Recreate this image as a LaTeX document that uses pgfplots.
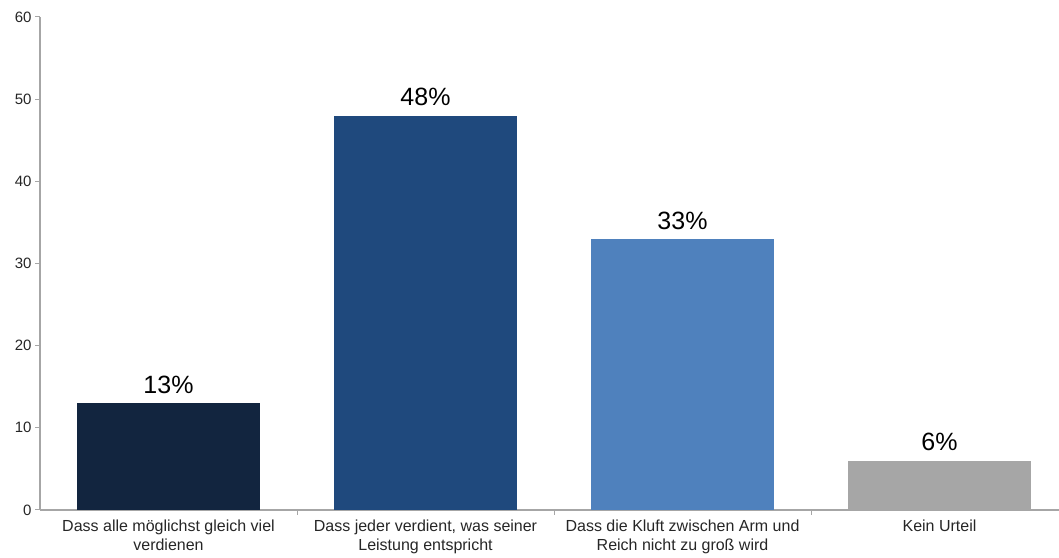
\documentclass[border=0pt]{standalone}
\usepackage{pgfplots}
\pgfplotsset{compat=1.18}
\usepackage{fontspec}
\setmainfont{Liberation Sans}
\definecolor{axgray}{HTML}{A6A6A6}
\definecolor{txt}{HTML}{262626}
\definecolor{c1}{HTML}{12253F}
\definecolor{c2}{HTML}{1F497D}
\definecolor{c3}{HTML}{4F81BD}
\definecolor{c4}{HTML}{A6A6A6}
\begin{document}
\begin{tikzpicture}[x=1bp,y=1bp]
\path[use as bounding box] (-40,-48) rectangle (1019,510);
\begin{axis}[
  at={(0,0)}, anchor=south west,
  scale only axis, width=1019bp, height=493bp,
  xmin=-0.5, xmax=3.465, ymin=0, ymax=60,
  axis x line*=bottom, axis y line*=left,
  axis line style={draw=axgray, line width=1.2pt},
  ytick={0,10,...,60},
  xtick={0,1,2,3},
  xticklabels={{Dass alle möglichst gleich viel\\verdienen},{Dass jeder verdient, was seiner\\Leistung entspricht},{Dass die Kluft zwischen Arm und\\Reich nicht zu groß wird},{Kein Urteil}},
  xticklabel style={align=center, font=\fontsize{16bp}{19bp}\selectfont, text=txt, yshift=-1bp},
  major x tick style={draw=none},
  minor xtick={0.5,1.5,2.5},
  minor tick length=5bp,
  minor x tick style={draw=axgray, line width=1pt},
  tick align=outside,
  major tick length=5bp,
  major y tick style={draw=axgray, line width=1pt},
  yticklabel style={font=\fontsize{15bp}{17bp}\selectfont, text=txt},
  /pgf/number format/assume math mode=true,
  ybar, bar width=0.712, bar shift=0pt,
  nodes near coords={\pgfmathprintnumber{\pgfplotspointmeta}\%},
  every node near coord/.append style={font=\fontsize{25bp}{28bp}\selectfont, text=black, yshift=6bp},
  clip=false,
]
\addplot[fill=c1, draw=none] coordinates {(0,13)};
\addplot[fill=c2, draw=none] coordinates {(1,48)};
\addplot[fill=c3, draw=none] coordinates {(2,33)};
\addplot[fill=c4, draw=none] coordinates {(3,6)};
\end{axis}
\end{tikzpicture}
\end{document}
